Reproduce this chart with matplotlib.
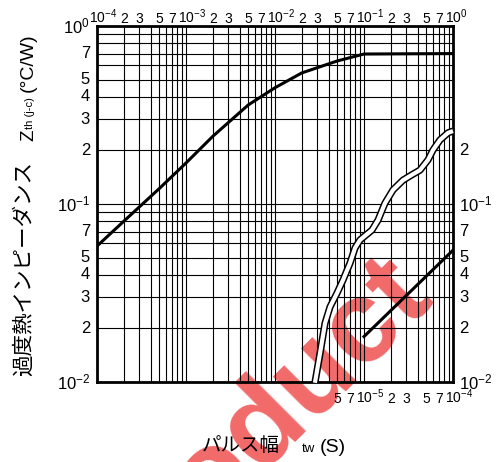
import matplotlib
matplotlib.use("Agg")
import matplotlib.pyplot as plt
from matplotlib import font_manager
from matplotlib.ticker import LogLocator, NullFormatter

plt.rcParams['font.family'] = ['Liberation Sans', 'Noto Sans CJK JP']
plt.rcParams['mathtext.fontset'] = 'custom'
plt.rcParams['mathtext.rm'] = 'Liberation Sans'
plt.rcParams['mathtext.it'] = 'Liberation Sans:italic'
plt.rcParams['mathtext.bf'] = 'Liberation Sans:bold'

# long pulse curve (top time scale, s)
tw = [1e-4, 2e-4, 5e-4, 1e-3, 2e-3, 5e-3, 1e-2, 2e-2, 5e-2, 1e-1, 1.0]
zth = [0.058, 0.080, 0.122, 0.170, 0.24, 0.36, 0.45, 0.545, 0.636, 0.696, 0.70]

# short pulse curve (bottom time scale, s)
tw_short = [1e-5, 1e-4]
zth_short = [0.018, 0.055]

# scale break line (in top-scale units)
brk_x = [0.0281, 0.0321, 0.0365, 0.0415, 0.0498, 0.0581, 0.0697, 0.0793, 0.0902,
         0.123, 0.144, 0.172, 0.212, 0.274, 0.346, 0.426, 0.524, 0.596, 0.714, 0.879, 1.0]
brk_y = [0.0099, 0.01455, 0.0214, 0.0264, 0.0316, 0.0374, 0.0466, 0.0566, 0.0628,
         0.0714, 0.0813, 0.101, 0.120, 0.136, 0.146, 0.155, 0.177, 0.201, 0.229, 0.251, 0.257]

top_ticks = [1e-4, 2e-4, 3e-4, 5e-4, 7e-4, 1e-3, 2e-3, 3e-3, 5e-3, 7e-3,
             1e-2, 2e-2, 3e-2, 5e-2, 7e-2, 1e-1, 2e-1, 3e-1, 5e-1, 7e-1, 1.0]
top_labels = ['-4', '2', '3', '5', '7', '-3', '2', '3', '5', '7',
              '-2', '2', '3', '5', '7', '-1', '2', '3', '5', '7', '0']
bot_ticks = [5e-6, 7e-6, 1e-5, 2e-5, 3e-5, 5e-5, 7e-5, 1e-4]
bot_labels = ['5', '7', '-5', '2', '3', '5', '7', '-4']
left_ticks = [1.0, 0.7, 0.5, 0.4, 0.3, 0.2, 0.1, 0.07, 0.05, 0.04, 0.03, 0.02, 0.01]
left_labels = ['0', '7', '5', '4', '3', '2', '-1', '7', '5', '4', '3', '2', '-2']
right_ticks = [0.2, 0.1, 0.07, 0.05, 0.04, 0.03, 0.02, 0.01]
right_labels = ['2', '-1', '7', '5', '4', '3', '2', '-2']


def fmt(s):
    # exponent strings become 10^n, plain digits stay as they are
    if s.startswith('-') or s == '0':
        return r'$10^{%s}$' % s.replace('-', u'\u2212')
    return s


W, H = 502, 462
fig = plt.figure(figsize=(W / 100, H / 100), dpi=100)
ax = fig.add_axes([97 / W, 1 - 382 / H, 356 / W, 356 / H])
ax.patch.set_visible(False)
ax.set_xscale('log')
ax.set_yscale('log')
ax.set_xlim(1e-4, 1.0)
ax.set_ylim(1e-2, 1.0)
for a in (ax.xaxis, ax.yaxis):
    a.set_major_locator(LogLocator(base=10, subs=range(1, 10)))
    a.set_minor_locator(LogLocator(base=10, subs=range(1, 10)))
    a.set_major_formatter(NullFormatter())
    a.set_minor_formatter(NullFormatter())
ax.tick_params(which='both', length=0)
ax.grid(True, which='major', color='black', lw=0.8)
for sp in ax.spines.values():
    sp.set_linewidth(2.0)

ax.plot(tw, zth, color='black', lw=2.2, zorder=4)

# second time scale for short pulses
axb = ax.twiny()
axb.set_xscale('log')
axb.set_xlim(1e-8, 1e-4)
axb.tick_params(which='both', length=0, labelbottom=False, labeltop=False)
axb.xaxis.set_major_formatter(NullFormatter())
axb.xaxis.set_minor_formatter(NullFormatter())
for sp in axb.spines.values():
    sp.set_visible(False)
axb.plot(tw_short, zth_short, color='black', lw=2.2, zorder=4)

# break line
ax.plot(brk_x, brk_y, color='black', lw=5.2, solid_capstyle='butt', zorder=6, clip_on=False)
ax.plot(brk_x, brk_y, color='white', lw=3.0, solid_capstyle='butt', zorder=7, clip_on=False)

# tick labels
for x, s in zip(top_ticks, top_labels):
    lab = fmt(s)
    if lab.startswith('$'):
        ax.annotate(lab, xy=(x, 1), xycoords=('data', 'axes fraction'), xytext=(-5.6, 2.2),
                    textcoords='offset points', ha='left', va='baseline', fontsize=10)
    else:
        ax.annotate(lab, xy=(x, 1), xycoords=('data', 'axes fraction'), xytext=(0, 2.2),
                    textcoords='offset points', ha='center', va='baseline', fontsize=10)
for x, s in zip(bot_ticks, bot_labels):
    lab = fmt(s)
    if lab.startswith('$'):
        axb.annotate(lab, xy=(x, 0), xycoords=('data', 'axes fraction'), xytext=(-5.6, -15),
                     textcoords='offset points', ha='left', va='baseline', fontsize=10)
    else:
        axb.annotate(lab, xy=(x, 0), xycoords=('data', 'axes fraction'), xytext=(0, -15),
                     textcoords='offset points', ha='center', va='baseline', fontsize=10)
for y, s in zip(left_ticks, left_labels):
    ax.annotate(fmt(s), xy=(0, y), xycoords=('axes fraction', 'data'), xytext=(-5, 0),
                textcoords='offset points', ha='right', va='center', fontsize=12)
for y, s in zip(right_ticks, right_labels):
    ax.annotate(fmt(s), xy=(1, y), xycoords=('axes fraction', 'data'), xytext=(4.5, 0),
                textcoords='offset points', ha='left', va='center', fontsize=12)

# axis titles
fig.text(24 / W, 1 - 269 / H, '過度熱インピーダンス', rotation=90, ha='center', va='center',
         fontsize=15.5, family=['Noto Sans CJK JP'])
fig.text(33 / W, 1 - 141 / H, 'Z', rotation=90, rotation_mode='anchor', ha='left', va='baseline',
         fontsize=13.5)
fig.text(33 / W, 1 - 129 / H, 'th (j-c)', rotation=90, rotation_mode='anchor', ha='left',
         va='baseline', fontsize=8)
fig.text(33 / W, 1 - 92 / H, '(°C/W)', rotation=90, rotation_mode='anchor', ha='left',
         va='baseline', fontsize=14)
fig.text(202 / W, 1 - 451 / H, 'パルス幅', ha='left', va='baseline', fontsize=14,
         family=['Noto Sans CJK JP'])
fig.text(302 / W, 1 - 452 / H, 'tw', ha='left', va='baseline', fontsize=9.5)
fig.text(320 / W, 1 - 452 / H, '(S)', ha='left', va='baseline', fontsize=14)

# watermark
names = {f.name for f in font_manager.fontManager.ttflist}
wm_family = 'Liberation Sans Narrow' if 'Liberation Sans Narrow' in names else 'Liberation Sans'
fig.text(434 / W, 1 - 296 / H, 'Product', rotation=45, rotation_mode='anchor', ha='right',
         va='baseline', fontsize=84, fontweight='bold', color='#f26a6a', zorder=-1,
         family=[wm_family])

fig.savefig('out.png', dpi=100, facecolor='white')
